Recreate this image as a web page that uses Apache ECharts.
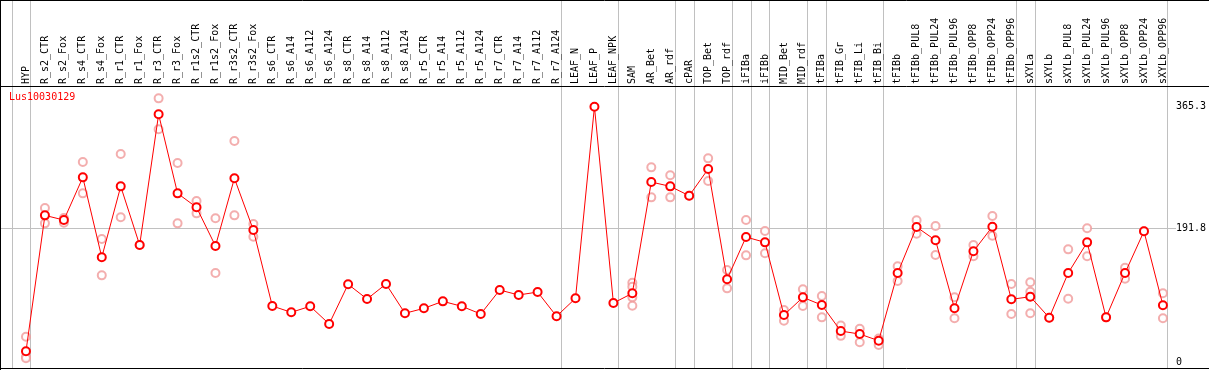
<!DOCTYPE html>
<html>
<head>
<meta charset="utf-8">
<script src="https://cdn.jsdelivr.net/npm/echarts@6/dist/echarts.min.js"></script>
<style>html,body{margin:0;padding:0;background:#fff;}#c{width:1209px;height:370px;}</style>
</head>
<body>
<div id="c"></div>
<script>
const seriesName = 'Lus10030129';
const categories = ['HYP','R_s2_CTR','R_s2_Fox','R_s4_CTR','R_s4_Fox','R_r1_CTR','R_r1_Fox','R_r3_CTR','R_r3_Fox','R_r1s2_CTR','R_r1s2_Fox','R_r3s2_CTR','R_r3s2_Fox','R_s6_CTR','R_s6_A14','R_s6_A112','R_s6_A124','R_s8_CTR','R_s8_A14','R_s8_A112','R_s8_A124','R_r5_CTR','R_r5_A14','R_r5_A112','R_r5_A124','R_r7_CTR','R_r7_A14','R_r7_A112','R_r7_A124','LEAF_N','LEAF_P','LEAF_NPK','SAM','AR_Bet','AR_rdf','cPAR','TOP_Bet','TOP_rdf','iFIBa','iFIBb','MID_Bet','MID_rdf','tFIBa','tFIB_Gr','tFIB_Li','tFIB_Bi','tFIBb','tFIBb_PUL8','tFIBb_PUL24','tFIBb_PUL96','tFIBb_OPP8','tFIBb_OPP24','tFIBb_OPP96','sXYLa','sXYLb','sXYLb_PUL8','sXYLb_PUL24','sXYLb_PUL96','sXYLb_OPP8','sXYLb_OPP24','sXYLb_OPP96'];
const meanValues = [15.3,209.8,203.1,264.2,149.8,251.3,167.4,354.4,241.3,221.3,166.0,262.8,188.8,80.1,71.1,79.7,54.4,111.2,90.1,111.6,69.7,76.8,86.8,79.7,68.7,103.0,95.9,100.1,65.4,91.1,365.3,84.4,98.3,257.5,251.3,237.9,276.1,118.3,178.8,171.2,67.2,92.5,81.5,44.3,40.0,30.5,127.3,193.1,174.1,76.8,158.4,193.6,89.7,93.4,63.4,127.3,171.2,63.9,127.3,187.0,81.1];
const replicateValues = [
  [36.2,7.6,5.3],[220.3,198.4],[206.0,199.3],[286.1,241.3],[176.0,124.0],[297.6,207.0],[167.4],[377.2,332.9],[284.7,198.4],[230.3,212.7],[205.6,127.3],[316.2,209.8],[197.4,179.3],
  [],[],[],[],[],[],[],[],[],[],[],[],[],[],[],[],
  [],[],[],
  [113.4,107.7,92.5,80.5],[278.5,235.6],[267.1,235.6],[237.9],[291.4,258.9],[131.6,105.4],[203.1,152.6],[187.4,155.5],[74.4,59.1],[104.0,80.1],
  [94.4,63.9],[52.3,37.4],[47.5,28.2],[33.6,24.3],
  [136.9,115.9],[202.7,183.5],[194.6,153.1],[92.6,62.5],[167.4,151.2],[208.9,180.7],[111.6,68.7],
  [114.0,100.6,69.7],[63.4],[161.2,90.6],[191.3,151.2],[63.9],[134.9,119.2],[187.0],[98.3,62.5]
];
const yTickValues = [0, 191.8, 365.3];
const yGridValue = 191.8;
const dividerAfter = [-1,0,28,31,34,35,37,38,39,41,42,45,52,53,60];

const repData = [];
replicateValues.forEach((arr, i) => arr.forEach(v => repData.push([i, v])));

const chart = echarts.init(document.getElementById('c'));
const mono = 'DejaVu Sans Mono';
chart.setOption({
  animation: false,
  backgroundColor: '#fff',
  title: {
    text: seriesName, left: 9, top: 92, padding: 0,
    textStyle: { color: '#ff0000', fontSize: 10, fontWeight: 'normal', fontFamily: mono }
  },
  grid: { left: 16.5, right: 33.5, top: 86, bottom: 1, containLabel: false },
  xAxis: {
    type: 'category', data: categories, position: 'top', boundaryGap: true,
    axisLine: { show: false }, axisTick: { show: false }, splitLine: { show: false },
    axisLabel: { interval: 0, rotate: 90, margin: 2, color: '#000', fontSize: 10, fontFamily: mono }
  },
  yAxis: {
    type: 'value', position: 'right', min: -10, max: 394.9,
    axisLine: { show: false }, axisTick: { show: false }, splitLine: { show: false },
    axisLabel: {
      customValues: yTickValues, margin: 3.5, color: '#000', fontSize: 10, fontFamily: mono,
      formatter: v => String(v)
    }
  },
  series: [
    {
      type: 'scatter', data: repData, symbol: 'emptyCircle', symbolSize: 8, z: 2,
      itemStyle: { color: '#f09a9a', borderColor: '#f09a9a', borderWidth: 1.3 }
    },
    {
      type: 'line', name: seriesName, data: meanValues, symbol: 'emptyCircle', symbolSize: 8, z: 3,
      lineStyle: { color: '#ff0000', width: 1 },
      itemStyle: { color: '#ff0000', borderColor: '#ff0000', borderWidth: 1.6 }
    }
  ]
});

function drawFrame() {
  const px0 = chart.convertToPixel({ xAxisIndex: 0 }, categories[0]);
  const px1 = chart.convertToPixel({ xAxisIndex: 0 }, categories[1]);
  const step = px1 - px0;
  const yg = Math.round(chart.convertToPixel({ yAxisIndex: 0 }, yGridValue)) + 0.5;
  const gray = '#c0c0c0';
  const g = [];
  dividerAfter.forEach(i => {
    const x = Math.round(px0 + i * step + 4.5) + 0.5;
    g.push({ type: 'line', silent: true, z: 0, shape: { x1: x, y1: 0, x2: x, y2: 369 }, style: { stroke: gray, lineWidth: 1 } });
  });
  g.push({ type: 'line', silent: true, z: 0, shape: { x1: 0, y1: yg, x2: 1176, y2: yg }, style: { stroke: gray, lineWidth: 1 } });
  g.push({ type: 'line', silent: true, z: 10, shape: { x1: 0, y1: 0.5, x2: 1209, y2: 0.5 }, style: { stroke: '#000', lineWidth: 1 } });
  g.push({ type: 'line', silent: true, z: 10, shape: { x1: 0, y1: 86.5, x2: 1209, y2: 86.5 }, style: { stroke: '#000', lineWidth: 1 } });
  g.push({ type: 'line', silent: true, z: 10, shape: { x1: 0, y1: 368.5, x2: 1209, y2: 368.5 }, style: { stroke: '#000', lineWidth: 1 } });
  g.push({ type: 'line', silent: true, z: 10, shape: { x1: 0.5, y1: 0, x2: 0.5, y2: 370 }, style: { stroke: '#000', lineWidth: 1 } });
  chart.setOption({ graphic: g });
}
drawFrame();
</script>
</body>
</html>
